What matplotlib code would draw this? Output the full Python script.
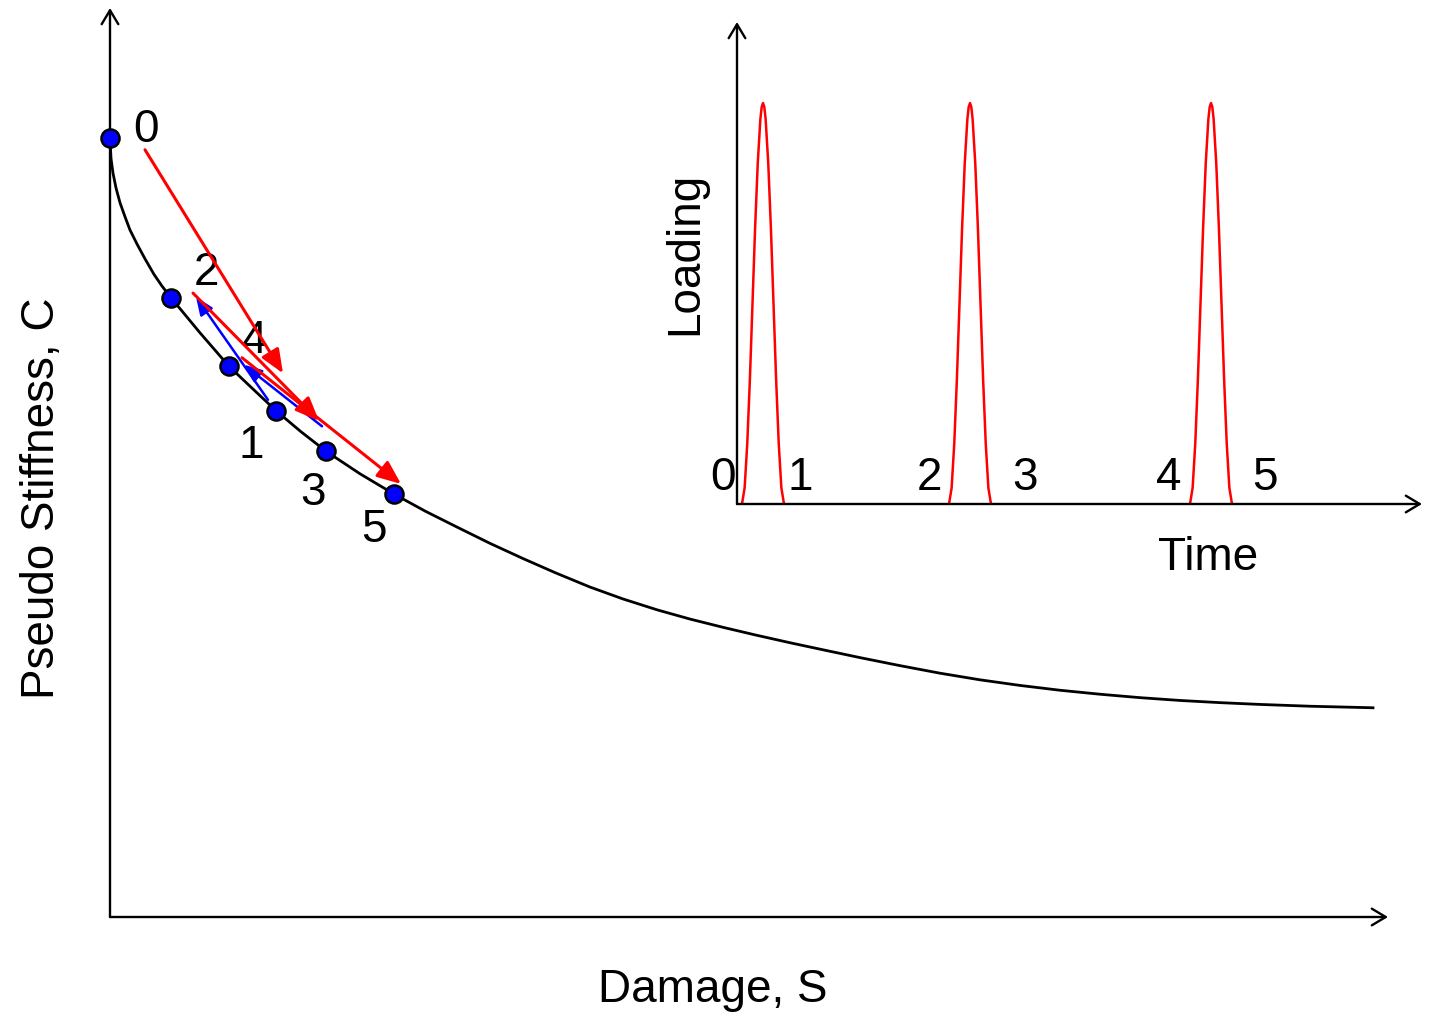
import numpy
from matplotlib import pyplot as plt

plt.rcParams['font.family'] = ['Liberation Sans', 'DejaVu Sans']

# main curve: damage S vs pseudo stiffness C
curveS = [0.0, 0.01, 0.03, 0.06, 0.10, 0.15, 0.20, 0.27, 0.35, 0.44, 0.52, 0.61,
          0.90, 1.19, 1.42, 1.66, 1.91, 2.16, 2.50, 2.84,
          3.15, 3.47, 3.80, 4.13, 4.46, 4.80, 5.13, 5.47, 5.80, 6.13,
          6.46, 6.80, 7.15, 7.50, 7.90, 8.30, 8.70, 9.10, 9.50, 9.90,
          10.30, 10.70, 11.10, 11.50, 12.00, 12.63]
curveC = [1.000, 0.974, 0.955, 0.936, 0.917, 0.899, 0.882, 0.864, 0.845, 0.825, 0.810, 0.795,
          0.750, 0.707, 0.679, 0.650, 0.623, 0.598, 0.569, 0.5430,
          0.5212, 0.5006, 0.4797, 0.4602, 0.4416, 0.4236, 0.4083, 0.3944, 0.3825, 0.3719,
          0.3619, 0.3521, 0.3425, 0.3330, 0.3227, 0.3130, 0.3045, 0.2973, 0.2911, 0.2860,
          0.2816, 0.2780, 0.2752, 0.2729, 0.2706, 0.2686]

# state points 0..5 on the curve
pointS = [0.0, 1.66, 0.61, 2.16, 1.19, 2.84]
pointC = [1.000, 0.650, 0.795, 0.598, 0.707, 0.543]
labelS = [0.36, 1.41, 0.96, 2.03, 1.45, 2.64]
labelC = [1.010, 0.605, 0.827, 0.544, 0.739, 0.497]
labels = ['0', '1', '2', '3', '4', '5']

# loading arrows (red): 0->1, 2->3, 4->5 ; rest periods (blue): 1->2, 3->4
# (S start, C start, S end, C end)
redArrows = [(0.35, 0.985, 1.73, 0.698),
             (0.83, 0.801, 2.09, 0.637),
             (1.32, 0.718, 2.91, 0.556)]
blueArrows = [(1.58, 0.664, 0.86, 0.796),
              (2.12, 0.630, 1.34, 0.709)]

# inset: loading pulses
pulseCenters = [0.26, 2.33, 4.74]
pulseHalfWidth = 0.21
pulseOffset = [-1.0, -0.875, -0.75, -0.625, -0.5, -0.375, -0.25, -0.125, -0.0625, 0.0,
               0.0625, 0.125, 0.25, 0.375, 0.5, 0.625, 0.75, 0.875, 1.0]
pulseHeight = [0.0, 0.04, 0.15, 0.31, 0.50, 0.69, 0.85, 0.96, 0.99, 1.0,
               0.99, 0.96, 0.85, 0.69, 0.50, 0.31, 0.15, 0.04, 0.0]
timeLabelT = [-0.14, 0.63, 1.92, 2.88, 4.32, 5.28]

fs = 33

fig = plt.figure(figsize=(14.31, 10.24), dpi=100)

######################
# main damage curve  #
######################
ax = fig.add_axes([110 / 1431, 107 / 1024, 1278 / 1431, 909 / 1024])
ax.set_xlim(0, 12.78)
ax.set_ylim(0, 1.167)
ax.set_axis_off()

axisArrow = dict(arrowstyle='->,head_length=0.5,head_width=0.3', lw=1.7, color='black',
                 shrinkA=0, shrinkB=0, mutation_scale=20)
ax.annotate('', xy=(1, 0), xytext=(0, 0), xycoords='axes fraction', arrowprops=axisArrow,
            annotation_clip=False)
ax.annotate('', xy=(0, 1), xytext=(0, 0), xycoords='axes fraction', arrowprops=axisArrow,
            annotation_clip=False)

ax.plot(curveS, curveC, color='black', lw=2.0, zorder=2, clip_on=False,
        solid_joinstyle='round')

for s0, c0, s1, c1 in blueArrows:
    ax.annotate('', xy=(s1, c1), xytext=(s0, c0),
                arrowprops=dict(arrowstyle='-|>,head_length=0.6,head_width=0.25', color='blue',
                                lw=1.8, shrinkA=0, shrinkB=0, mutation_scale=18), zorder=3)
for s0, c0, s1, c1 in redArrows:
    ax.annotate('', xy=(s1, c1), xytext=(s0, c0),
                arrowprops=dict(arrowstyle='-|>,head_length=0.6,head_width=0.25', color='red',
                                lw=2.2, shrinkA=0, shrinkB=0, mutation_scale=24), zorder=4)

ax.plot(pointS, pointC, linestyle='none', marker='o', markersize=13, markerfacecolor='blue',
        markeredgecolor='black', markeredgewidth=1.8, zorder=5, clip_on=False)

for s, c, t in zip(labelS, labelC, labels):
    ax.text(s, c, t, fontsize=fs, ha='center', va='center')

ax.text(6.03, -0.094, 'Damage, S', fontsize=fs, ha='center', va='center')
ax.text(-0.68, 0.538, 'Pseudo Stiffness, C', fontsize=fs, ha='center', va='center',
        rotation=90)

####################
# inset: loading   #
####################
axi = fig.add_axes([737 / 1431, 520 / 1024, 685 / 1431, 482 / 1024])
axi.set_xlim(0, 6.85)
axi.set_ylim(0, 1.202)
axi.set_axis_off()
axi.annotate('', xy=(1, 0), xytext=(0, 0), xycoords='axes fraction', arrowprops=axisArrow,
             annotation_clip=False)
axi.annotate('', xy=(0, 1), xytext=(0, 0), xycoords='axes fraction', arrowprops=axisArrow,
             annotation_clip=False)

for tc in pulseCenters:
    tt = [tc + o * pulseHalfWidth for o in pulseOffset]
    axi.plot(tt, pulseHeight, color='red', lw=1.8, solid_joinstyle='round')

for t, lab in zip(timeLabelT, labels):
    axi.text(t, 0.065, lab, fontsize=fs, ha='center', va='center')

axi.text(4.71, -0.135, 'Time', fontsize=fs, ha='center', va='center')
axi.text(-0.52, 0.626, 'Loading', fontsize=fs, ha='center', va='center', rotation=90)

fig.savefig('out.png', dpi=100)
plt.close(fig)
